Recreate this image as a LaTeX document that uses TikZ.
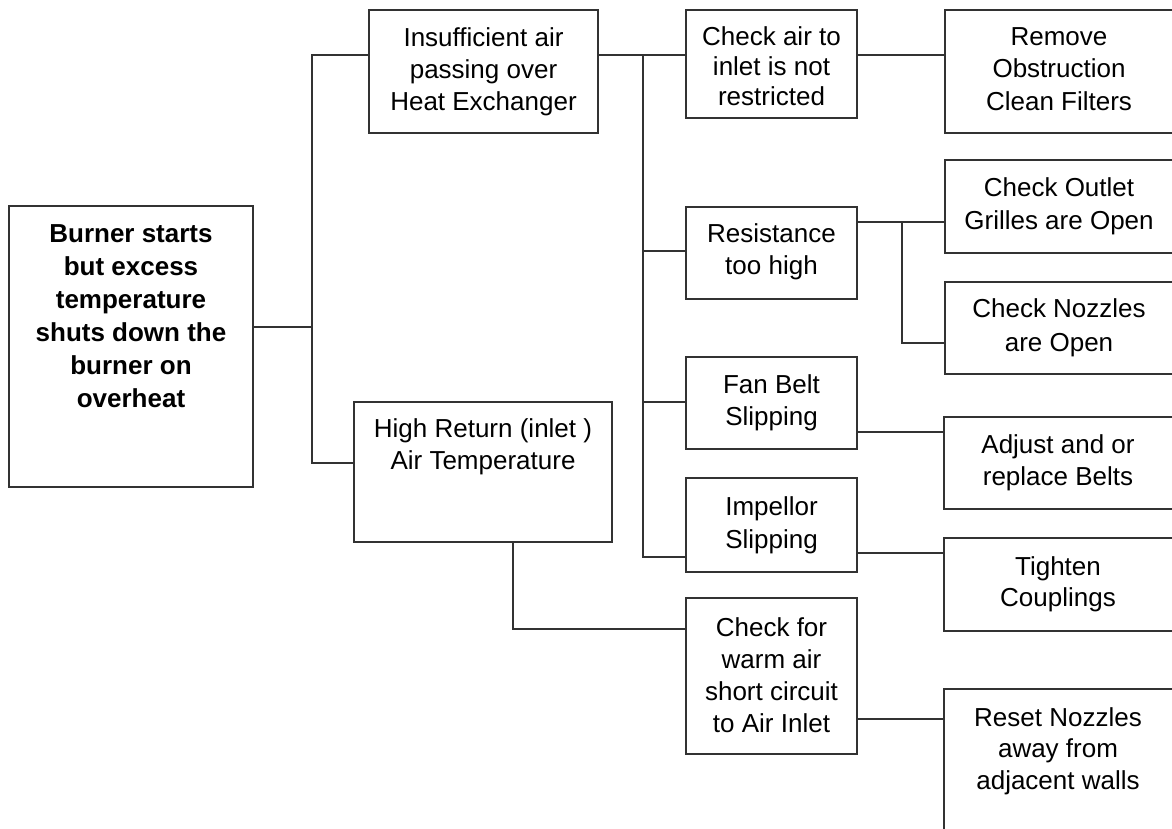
\documentclass[tikz,border=0pt]{standalone}
\usepackage{fontspec}
\setmainfont{Liberation Sans}
\definecolor{linec}{RGB}{50,50,50}
\begin{document}
\begin{tikzpicture}[x=1pt,y=-1pt,
  box/.style={draw=linec, line width=1.3pt, inner sep=0pt, fill=none},
  txt/.style={align=center, inner sep=0pt, anchor=north, font=\fontsize{26}{32}\selectfont},
  btxt/.style={txt, font=\fontsize{26}{33}\selectfont\bfseries},
  conn/.style={draw=linec, line width=1.3pt}]
\useasboundingbox (0,0) rectangle (1172,828);
\fill[white] (0,0) rectangle (1172,828);
\clip (0,0) rectangle (1172,828);
% boxes
\node[box, minimum width=244pt, minimum height=281pt] (burner) at (131,346.5) {};
\node[box, minimum width=229pt, minimum height=123pt] (insuf) at (483.5,71.5) {};
\node[box, minimum width=258pt, minimum height=140pt] (high) at (483,472) {};
\node[box, minimum width=171pt, minimum height=108pt] (checkair) at (771.5,64) {};
\node[box, minimum width=235pt, minimum height=123pt] (remove) at (1062.5,71.5) {};
\node[box, minimum width=171pt, minimum height=92pt] (resist) at (771.5,253) {};
\node[box, minimum width=235pt, minimum height=93pt] (outlet) at (1062.5,206.5) {};
\node[box, minimum width=235pt, minimum height=92pt] (nozzles) at (1062.5,328) {};
\node[box, minimum width=171pt, minimum height=92pt] (fan) at (771.5,403) {};
\node[box, minimum width=236pt, minimum height=92pt] (adjust) at (1062,463) {};
\node[box, minimum width=171pt, minimum height=94pt] (impellor) at (771.5,525) {};
\node[box, minimum width=236pt, minimum height=93pt] (tighten) at (1062,584.5) {};
\node[box, minimum width=171pt, minimum height=156pt] (checkfor) at (771.5,676) {};
\node[box, minimum width=236pt, minimum height=161pt] (reset) at (1062,769.5) {};
% texts
\node[btxt] (tburner) at (131,224) {Burner starts\\but excess\\temperature\\shuts down the\\burner on\\overheat};
\node[txt] (tinsuf) at (483.5,27) {Insufficient air\\passing over\\Heat Exchanger};
\node[txt] (thigh) at (483,418) {High Return (inlet )\\Air Temperature};
\node[txt, font=\fontsize{26}{30}\selectfont] (tcheckair) at (771.5,26) {Check air to\\inlet is not\\restricted};
\node[txt, font=\fontsize{26}{32.5}\selectfont] (tremove) at (1059,27) {Remove\\Obstruction\\Clean Filters};
\node[txt] (tresist) at (771.5,223) {Resistance\\too high};
\node[txt, font=\fontsize{26}{33}\selectfont] (toutlet) at (1059,177) {Check Outlet\\Grilles are Open};
\node[txt, font=\fontsize{26}{34}\selectfont] (tnozzles) at (1059,298) {Check Nozzles\\are Open};
\node[txt] (tfan) at (771.5,374) {Fan Belt\\Slipping};
\node[txt] (tadjust) at (1058,434) {Adjust and or\\replace Belts};
\node[txt, font=\fontsize{26}{33}\selectfont] (timpellor) at (771.5,496) {Impellor\\Slipping};
\node[txt, font=\fontsize{26}{31}\selectfont] (ttighten) at (1058,556) {Tighten\\Couplings};
\node[txt] (tcheckfor) at (771.5,617) {Check for\\warm air\\short circuit\\to Air Inlet};
\node[txt, font=\fontsize{26}{31.5}\selectfont] (treset) at (1058,707) {Reset Nozzles\\away from\\adjacent walls};
% junction coordinates
\coordinate (j1) at (312,327);
\coordinate (j1t) at (312,55);
\coordinate (j1b) at (312,463);
\coordinate (j2t) at (643,55);
\coordinate (j2r) at (643,251);
\coordinate (j2f) at (643,402);
\coordinate (j2b) at (643,557);
\coordinate (j3t) at (902,222);
\coordinate (j3b) at (902,343);
\coordinate (j4) at (513,629);
% connectors
\draw[conn] (j1 -| burner.east) -- (j1);
\draw[conn] (j1t -| insuf.west) -- (j1t) -- (j1b) -- (j1b -| high.west);
\draw[conn] (j2t -| insuf.east) -- (j2t -| checkair.west);
\draw[conn] (j2t) -- (j2b) -- (j2b -| impellor.west);
\draw[conn] (j2r) -- (j2r -| resist.west);
\draw[conn] (j2f) -- (j2f -| fan.west);
\draw[conn] (j2t -| checkair.east) -- (j2t -| remove.west);
\draw[conn] (j3t -| resist.east) -- (j3t) -- (j3t -| outlet.west);
\draw[conn] (j3t) -- (j3b) -- (j3b -| nozzles.west);
\draw[conn] (fan.east |- 0,432) -- (adjust.west |- 0,432);
\draw[conn] (impellor.east |- 0,553) -- (tighten.west |- 0,553);
\draw[conn] (high.south -| j4) -- (j4) -- (j4 -| checkfor.west);
\draw[conn] (checkfor.east |- 0,719) -- (reset.west |- 0,719);
\end{tikzpicture}
\end{document}
